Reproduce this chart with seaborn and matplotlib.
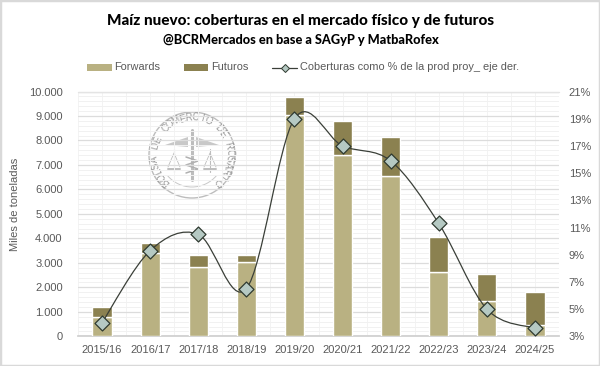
import numpy as np
import pandas as pd
import matplotlib
matplotlib.use("Agg")
import matplotlib.pyplot as plt
from matplotlib.path import Path
from matplotlib.patches import PathPatch, Circle, Arc
from matplotlib.ticker import FuncFormatter, MultipleLocator
import seaborn as sns

campaigns = ["2015/16", "2016/17", "2017/18", "2018/19", "2019/20",
             "2020/21", "2021/22", "2022/23", "2023/24", "2024/25"]
forwards = [790, 3390, 2830, 3040, 9030, 7400, 6530, 2610, 1430, 450]
futuros = [410, 420, 480, 270, 750, 1400, 1600, 1450, 1100, 1360]
coberturas = [4.0, 9.3, 10.5, 6.5, 19.0, 17.0, 15.9, 11.3, 5.0, 3.6]

title = "Maíz nuevo: coberturas en el mercado físico y de futuros"
subtitle = "@BCRMercados en base a SAGyP y MatbaRofex"
logo_text = "BOLSA DE COMERCIO DE ROSARIO"

C_FW, C_FU, C_TXT, C_MK = "#b9b182", "#8b8150", "#595959", "#b5c9c3"

sns.set_theme(style="white")
plt.rcParams["font.family"] = ["Liberation Sans", "DejaVu Sans"]

W, H = 600, 366
fig = plt.figure(figsize=(W / 100, H / 100), dpi=100, facecolor="white")
ax = fig.add_axes([78 / W, 1 - 336.3 / H, (559 - 78) / W, (336.3 - 91.5) / H])

df = pd.DataFrame({"c": campaigns, "fw": forwards, "fu": futuros, "p": coberturas})
sns.barplot(df, x="c", y="fw", color=C_FW, saturation=1, width=0.4, ax=ax, zorder=3)
sns.barplot(df, x="c", y="fu", bottom=df["fw"], color=C_FU, saturation=1, width=0.4, ax=ax, zorder=3)
ax.set_xlim(-0.5, 9.5)
ax.set_ylim(0, 10000)
ax.yaxis.set_major_locator(MultipleLocator(1000))
ax.yaxis.set_minor_locator(MultipleLocator(200))
ax.xaxis.set_minor_locator(MultipleLocator(0.5))
ax.yaxis.set_major_formatter(FuncFormatter(lambda v, _: f"{int(v):,}".replace(",", ".")))
ax.grid(True, axis="y", which="major", color="#dcdcdc", lw=0.9, zorder=0)
ax.grid(True, axis="y", which="minor", color="#f1f1f1", lw=0.7, zorder=0)
ax.grid(True, axis="x", which="both", color="#f3f3f3", lw=0.7, zorder=0)
ax.set_axisbelow(True)
ax.set_xlabel("")
ax.set_ylabel("Miles de toneladas", fontsize=8, color=C_TXT)
ax.yaxis.set_label_coords((20 - 78) / (559 - 78), (336.3 - 204) / (336.3 - 91.5))
ax.tick_params(axis="both", which="both", length=0)
ax.tick_params(axis="both", labelsize=8, labelcolor=C_TXT, pad=6)
ax.tick_params(axis="y", pad=11)
for s in ("top", "right", "left"):
    ax.spines[s].set_visible(False)
ax.spines["bottom"].set_color("#cfcfcf")
ax.plot([0, 1], [1, 1], transform=ax.transAxes, color="#e4e4e4", lw=1, clip_on=False, zorder=1)

ax2 = ax.twinx()
ax2.set_ylim(3, 21)
ax2.set_yticks(np.arange(3, 22, 2))
ax2.yaxis.set_major_formatter(FuncFormatter(lambda v, _: f"{int(v)}%"))
ax2.tick_params(axis="y", length=0, labelsize=8, labelcolor=C_TXT, pad=7)
ax2.grid(False)
for s in ax2.spines.values():
    s.set_visible(False)

# Excel-style smoothed line: Bezier segments through the data points
xs = np.arange(len(coberturas), dtype=float)
ys = np.array(coberturas, dtype=float)
verts, codes = [(xs[0], ys[0])], [Path.MOVETO]
for i in range(len(xs) - 1):
    p0 = i - 1 if i > 0 else i
    p3 = i + 2 if i + 2 < len(xs) else i + 1
    c1 = (xs[i] + (xs[i + 1] - xs[p0]) / 6, ys[i] + (ys[i + 1] - ys[p0]) / 6)
    c2 = (xs[i + 1] - (xs[p3] - xs[i]) / 6, ys[i + 1] - (ys[p3] - ys[i]) / 6)
    verts += [c1, c2, (xs[i + 1], ys[i + 1])]
    codes += [Path.CURVE4] * 3
ax2.add_patch(PathPatch(Path(verts, codes), fc="none", ec="#3a3f38", lw=0.9, zorder=4))
sns.scatterplot(x=xs, y=ys, marker="D", s=58, color=C_MK, edgecolor="#2f3a30", linewidth=0.9,
                ax=ax2, zorder=5, legend=False)
ax2.set_xlim(-0.5, 9.5)

# Watermark logo (pixel-based overlay axes)
ov = fig.add_axes([0, 0, 1, 1], facecolor="none")
ov.set_xlim(0, W); ov.set_ylim(H, 0); ov.axis("off"); ov.set_zorder(-1)
ax.set_zorder(1); ax.patch.set_alpha(0); ax2.set_zorder(2)
cx, cy, LG = 192, 155, "#bdbdbd"
ov.add_patch(Circle((cx, cy), 43, fc="none", ec=LG, lw=1.0))
ov.add_patch(Arc((cx, cy), 64, 64, theta1=40, theta2=140, ec="#c8c8c8", lw=0.7))
n = len(logo_text)
angs = np.linspace(226, -46, n)
for ch, a in zip(logo_text, angs):
    r = np.radians(a)
    ov.text(cx + 37.5 * np.cos(r), cy - 37.5 * np.sin(r), ch, fontsize=7, color="#9a9a9a",
            rotation=a - 90, ha="center", va="center", rotation_mode="anchor")
ov.plot([cx, cx], [cy - 25, cy + 25], color=LG, lw=2.2)
ov.fill([cx - 27, cx - 4, cx - 4], [cy - 10, cy - 18, cy - 8], color="#c8c8c8", lw=0)
ov.fill([cx + 27, cx + 4, cx + 4], [cy - 10, cy - 18, cy - 8], color="#c8c8c8", lw=0)
ov.plot([cx - 6, cx + 6, cx - 6, cx + 6, cx - 6], [cy + 2, cy + 6, cy + 10, cy + 14, cy + 18], color="#b0b0b0", lw=1.1)
for sx in (-18, 18):
    ov.plot([cx + sx, cx + sx], [cy - 6, cy + 17], color=LG, lw=0.8)
    ov.plot([cx + sx - 6, cx + sx, cx + sx + 6], [cy + 12, cy - 2, cy + 12], color=LG, lw=0.6)
    ov.plot([cx + sx - 6, cx + sx + 6], [cy + 14, cy + 14], color=LG, lw=1.4)

# Titles
fig.text(300.5 / W, 1 - 21 / H, title, ha="center", va="center", fontsize=11, fontweight="black",
         color="black", family=["Lato", "Liberation Sans", "DejaVu Sans"])
fig.text(301 / W, 1 - 39.5 / H, subtitle, ha="center", va="center", fontsize=9.2, fontweight="black",
         color="black", family=["Lato", "Liberation Sans", "DejaVu Sans"])

# Legend
lg = fig.add_axes([0, 0, 1, 1], facecolor="none")
lg.set_xlim(0, W); lg.set_ylim(H, 0); lg.axis("off"); lg.set_zorder(5)
lg.fill_between([87, 112], 64, 71, color=C_FW, lw=0)
lg.text(114.5, 67.5, "Forwards", fontsize=7.9, color=C_TXT, va="center")
lg.fill_between([184, 208], 64, 71, color=C_FU, lw=0)
lg.text(211, 67.5, "Futuros", fontsize=7.9, color=C_TXT, va="center")
lg.plot([272, 297], [67.5, 67.5], color="#3a3f38", lw=0.9)
lg.plot([284.5], [67.5], marker="D", ms=4.5, mfc=C_MK, mec="#2f3a30", mew=0.7)
lg.text(300, 67.5, "Coberturas como % de la prod proy_ eje der.", fontsize=7.9, color=C_TXT, va="center")

# Image frame
fig.add_artist(plt.Rectangle((0, 0), 1, 1, transform=fig.transFigure, fc="none", ec="#d9d9d9", lw=2.5))

fig.savefig("out.png", dpi=100, facecolor="white")
